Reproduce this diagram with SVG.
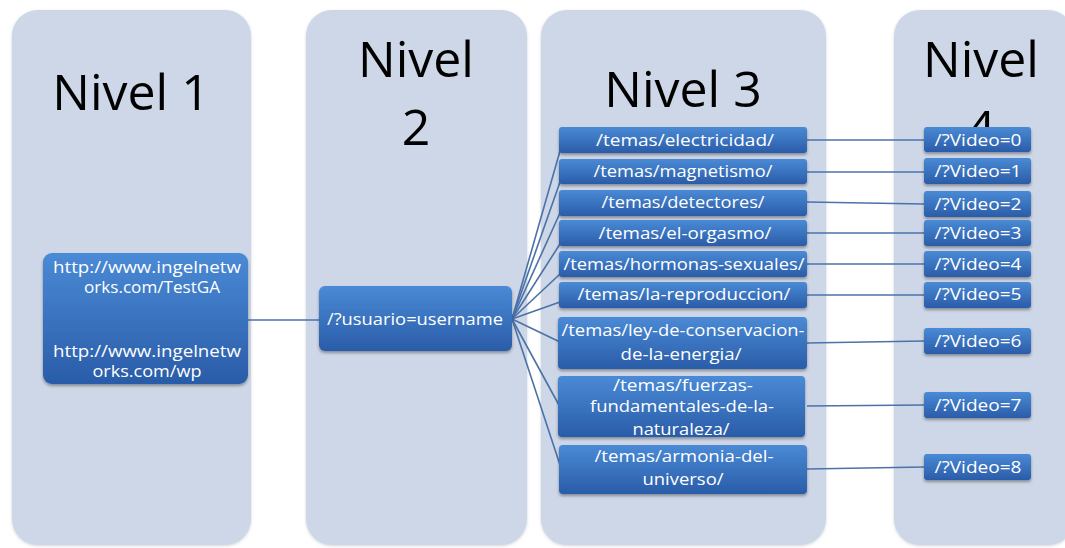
<svg xmlns="http://www.w3.org/2000/svg" width="1065" height="548" viewBox="0 0 1065 548">
  <defs>
    <linearGradient id="boxFill" x1="0" y1="0" x2="0" y2="1">
      <stop offset="0" stop-color="#4a8ad6"/>
      <stop offset="1" stop-color="#2a5ca8"/>
    </linearGradient>
    <filter id="shadow" x="-10%" y="-20%" width="120%" height="150%">
      <feDropShadow dx="0" dy="2" stdDeviation="1.5" flood-color="#000" flood-opacity="0.35"/>
    </filter>
    <filter id="colShadow" x="-5%" y="-5%" width="110%" height="110%">
      <feDropShadow dx="0" dy="1" stdDeviation="1.5" flood-color="#7f8799" flood-opacity="0.35"/>
    </filter>
  </defs>
  <style>
    .col { fill: #ced7e7; filter: url(#colShadow); }
    .title { font-family: "Open Sans", "Liberation Sans", sans-serif; font-size: 50px; fill: #000; text-anchor: middle; }
    .box { fill: url(#boxFill); filter: url(#shadow); }
    .lbl { font-family: "Open Sans", "Liberation Sans", sans-serif; font-size: 17px; fill: #fff; text-anchor: middle; }
    .sm { font-size: 16px; }
    .conn line { stroke: #4a72a8; stroke-width: 1.6; }
  </style>

  <rect width="1065" height="548" fill="#fff"/>

  <!-- level columns -->
  <g id="col1"><rect class="col" x="12" y="10" width="239" height="535" rx="26"/>
    <text class="title" x="131" y="110">Nivel 1</text></g>
  <g id="col2"><rect class="col" x="306" y="10" width="221" height="535" rx="26"/>
    <text class="title" x="416" y="77">Nivel</text><text class="title" x="416" y="145">2</text></g>
  <g id="col3"><rect class="col" x="541" y="10" width="285" height="535" rx="26"/>
    <text class="title" x="683" y="107">Nivel 3</text></g>
  <g id="col4"><rect class="col" x="894" y="10" width="180" height="535" rx="26"/>
    <text class="title" x="981" y="77">Nivel</text><text class="title" x="981" y="146">4</text></g>

  <!-- connectors -->
  <g id="connectors" class="conn">
    <line x1="248" y1="320" x2="319" y2="320"/>
    <line x1="512" y1="319" x2="560" y2="151"/>
    <line x1="512" y1="319" x2="560" y2="182"/>
    <line x1="512" y1="319" x2="560" y2="213"/>
    <line x1="512" y1="319" x2="560" y2="244"/>
    <line x1="512" y1="319" x2="560" y2="274"/>
    <line x1="512" y1="319" x2="560" y2="302"/>
    <line x1="512" y1="319" x2="560" y2="342"/>
    <line x1="512" y1="319" x2="560" y2="407"/>
    <line x1="512" y1="319" x2="560" y2="465"/>
    <line x1="807" y1="140" x2="924" y2="140"/>
    <line x1="807" y1="172" x2="924" y2="172"/>
    <line x1="807" y1="202" x2="924" y2="204"/>
    <line x1="807" y1="233" x2="924" y2="233"/>
    <line x1="807" y1="264" x2="924" y2="264"/>
    <line x1="807" y1="295" x2="924" y2="295"/>
    <line x1="807" y1="343" x2="924" y2="341"/>
    <line x1="807" y1="406" x2="924" y2="405"/>
    <line x1="807" y1="469" x2="924" y2="467"/>
  </g>

  <!-- level 1 -->
  <g id="n-root"><rect class="box" x="43" y="253" width="205" height="131" rx="9"/>
    <text class="lbl sm" x="147" y="273" textLength="188" lengthAdjust="spacingAndGlyphs">http://www.ingelnetw</text>
    <text class="lbl sm" x="152" y="293" textLength="136" lengthAdjust="spacingAndGlyphs">orks.com/TestGA</text>
    <text class="lbl sm" x="147" y="357" textLength="188" lengthAdjust="spacingAndGlyphs">http://www.ingelnetw</text>
    <text class="lbl sm" x="147" y="377" textLength="109" lengthAdjust="spacingAndGlyphs">orks.com/wp</text></g>

  <!-- level 2 -->
  <g id="n-usuario"><rect class="box" x="319" y="286" width="193" height="65" rx="6"/>
    <text class="lbl" x="415" y="325" textLength="176" lengthAdjust="spacingAndGlyphs">/?usuario=username</text></g>

  <!-- level 3 -->
  <g id="n-electricidad"><rect class="box" x="559" y="127" width="248" height="26" rx="3"/>
    <text class="lbl" x="685" y="146" textLength="178" lengthAdjust="spacingAndGlyphs">/temas/electricidad/</text></g>
  <g id="n-magnetismo"><rect class="box" x="559" y="159" width="248" height="25" rx="3"/>
    <text class="lbl" x="683" y="177" textLength="179" lengthAdjust="spacingAndGlyphs">/temas/magnetismo/</text></g>
  <g id="n-detectores"><rect class="box" x="559" y="190" width="248" height="26" rx="3"/>
    <text class="lbl" x="683" y="208" textLength="163" lengthAdjust="spacingAndGlyphs">/temas/detectores/</text></g>
  <g id="n-orgasmo"><rect class="box" x="559" y="220" width="248" height="26" rx="3"/>
    <text class="lbl" x="685" y="239" textLength="173" lengthAdjust="spacingAndGlyphs">/temas/el-orgasmo/</text></g>
  <g id="n-hormonas"><rect class="box" x="559" y="251" width="248" height="26" rx="3"/>
    <text class="lbl" x="684" y="270" textLength="241" lengthAdjust="spacingAndGlyphs">/temas/hormonas-sexuales/</text></g>
  <g id="n-reproduccion"><rect class="box" x="559" y="282" width="248" height="26" rx="3"/>
    <text class="lbl" x="684" y="300" textLength="213" lengthAdjust="spacingAndGlyphs">/temas/la-reproduccion/</text></g>
  <g id="n-conservacion"><rect class="box" x="558" y="317" width="249" height="52" rx="4"/>
    <text class="lbl" x="683" y="336" textLength="243" lengthAdjust="spacingAndGlyphs">/temas/ley-de-conservacion-</text>
    <text class="lbl" x="681" y="360" textLength="121" lengthAdjust="spacingAndGlyphs">de-la-energia/</text></g>
  <g id="n-fuerzas"><rect class="box" x="558" y="376" width="247" height="61" rx="4"/>
    <text class="lbl" x="683" y="391" textLength="140" lengthAdjust="spacingAndGlyphs">/temas/fuerzas-</text>
    <text class="lbl" x="682" y="412" textLength="184" lengthAdjust="spacingAndGlyphs">fundamentales-de-la-</text>
    <text class="lbl" x="681" y="435" textLength="97" lengthAdjust="spacingAndGlyphs">naturaleza/</text></g>
  <g id="n-armonia"><rect class="box" x="559" y="445" width="248" height="49" rx="4"/>
    <text class="lbl" x="684" y="462" textLength="179" lengthAdjust="spacingAndGlyphs">/temas/armonia-del-</text>
    <text class="lbl" x="683" y="485" textLength="81" lengthAdjust="spacingAndGlyphs">universo/</text></g>

  <!-- level 4 -->
  <g id="v0"><rect class="box" x="924" y="127" width="107" height="25" rx="3"/><text class="lbl" x="978" y="146" textLength="87" lengthAdjust="spacingAndGlyphs">/?Video=0</text></g>
  <g id="v1"><rect class="box" x="924" y="158" width="107" height="26" rx="3"/><text class="lbl" x="978" y="177" textLength="87" lengthAdjust="spacingAndGlyphs">/?Video=1</text></g>
  <g id="v2"><rect class="box" x="924" y="191" width="107" height="26" rx="3"/><text class="lbl" x="978" y="210" textLength="87" lengthAdjust="spacingAndGlyphs">/?Video=2</text></g>
  <g id="v3"><rect class="box" x="924" y="220" width="107" height="26" rx="3"/><text class="lbl" x="978" y="239" textLength="87" lengthAdjust="spacingAndGlyphs">/?Video=3</text></g>
  <g id="v4"><rect class="box" x="924" y="251" width="107" height="26" rx="3"/><text class="lbl" x="978" y="270" textLength="87" lengthAdjust="spacingAndGlyphs">/?Video=4</text></g>
  <g id="v5"><rect class="box" x="924" y="282" width="107" height="26" rx="3"/><text class="lbl" x="978" y="300" textLength="87" lengthAdjust="spacingAndGlyphs">/?Video=5</text></g>
  <g id="v6"><rect class="box" x="924" y="328" width="107" height="26" rx="3"/><text class="lbl" x="978" y="347" textLength="87" lengthAdjust="spacingAndGlyphs">/?Video=6</text></g>
  <g id="v7"><rect class="box" x="924" y="392" width="107" height="26" rx="3"/><text class="lbl" x="978" y="411" textLength="87" lengthAdjust="spacingAndGlyphs">/?Video=7</text></g>
  <g id="v8"><rect class="box" x="924" y="454" width="107" height="26" rx="3"/><text class="lbl" x="978" y="473" textLength="87" lengthAdjust="spacingAndGlyphs">/?Video=8</text></g>
</svg>
